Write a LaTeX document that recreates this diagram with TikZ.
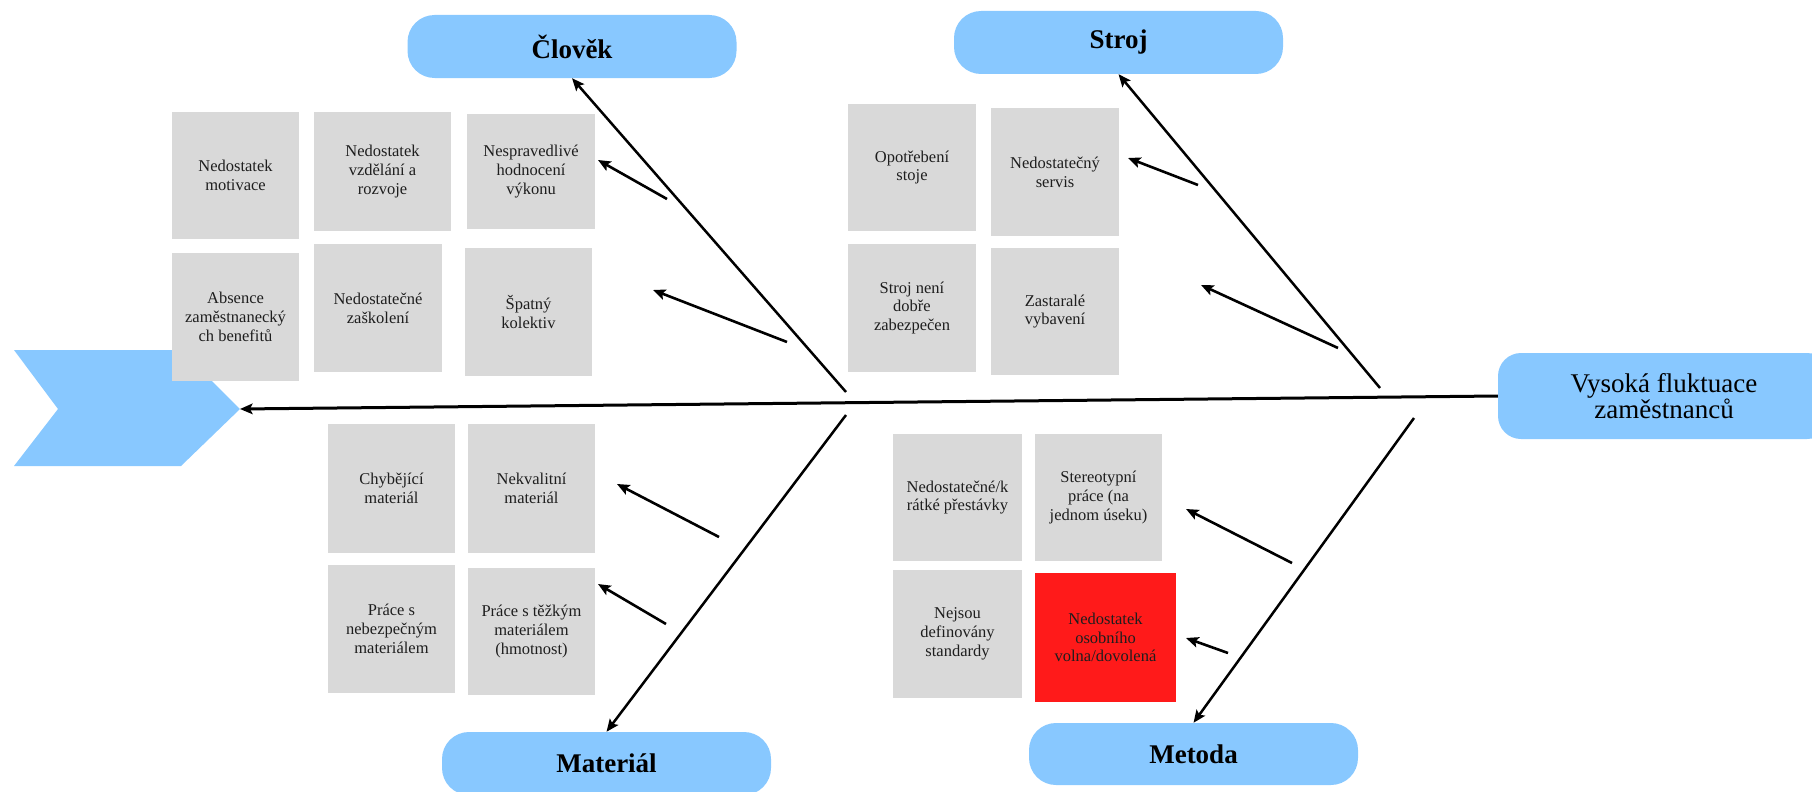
\documentclass[tikz,border=0pt]{standalone}
\usepackage{fontspec}
\setmainfont{Liberation Serif}
\usetikzlibrary{arrows.meta}
\definecolor{catblue}{HTML}{88C8FF}
\definecolor{causegray}{HTML}{D9D9D9}
\definecolor{alertred}{HTML}{FF1A1A}
\definecolor{inktext}{HTML}{1E1E1E}

\begin{document}
\begin{tikzpicture}[x=1pt,y=-1pt,
  category/.style={fill=catblue, rounded corners=27pt, inner sep=0pt,
    minimum width=329pt, minimum height=63pt,
    font=\fontsize{27}{30}\selectfont\bfseries},
  effectbox/.style={fill=catblue, rounded corners=23pt, inner sep=0pt, align=center,
    minimum width=332pt, minimum height=86pt,
    font=\fontsize{27}{26}\selectfont},
  cause/.style={fill=causegray, inner sep=0pt, align=center, text=inktext,
    minimum width=127pt, minimum height=127pt,
    font=\fontsize{16.5}{18.8}\selectfont},
  tipstyle/.style={-{Stealth[length=12.5pt,width=10.5pt,inset=2.5pt]}},
  bone/.style={line width=2.5pt, tipstyle},
  twig/.style={line width=2.6pt, tipstyle},
  spine/.style={line width=3pt, tipstyle}
]
\clip (0,0) rectangle (1812,792);

% head of the fish
\fill[catblue] (14,350) -- (181,350) -- (240,409) -- (181,466) -- (14,466) -- (58,409) -- cycle;
\coordinate (tail) at (240,409);

% categories and effect
\node[category] (clovek)   at (572,46.5)   {Člověk};
\node[category] (stroj)    at (1118.5,42.5) {Stroj};
\node[category] (material) at (606.5,763.5) {Materiál};
\node[category, minimum height=62pt] (metoda) at (1193.5,754) {Metoda};
\node[effectbox] (effect)  at (1664,396)   {Vysoká fluktuace\\zaměstnanců};

% causes: Člověk
\node[cause] (A1) at (235.5,175.5) {Nedostatek\\motivace};
\node[cause, minimum width=137pt, minimum height=119pt] (A2) at (382.5,171.5) {Nedostatek\\vzdělání a\\rozvoje};
\node[cause, minimum width=128pt, minimum height=115pt] (A3) at (531,171.5) {Nespravedlivé\\hodnocení\\výkonu};
\node[cause, minimum height=128pt] (A4) at (235.5,317) {Absence\\zaměstnanecký\\ch benefitů};
\node[cause, minimum width=128pt, minimum height=128pt] (A5) at (378,308) {Nedostatečné\\zaškolení};
\node[cause, minimum height=128pt] (A6) at (528.5,312) {Špatný\\kolektiv};

% causes: Stroj
\node[cause, minimum width=128pt] (B1) at (912,167.5) {Opotřebení\\stoje};
\node[cause, minimum width=128pt, minimum height=128pt] (B2) at (1055,172) {Nedostatečný\\servis};
\node[cause, minimum width=128pt, minimum height=128pt] (B3) at (912,308) {Stroj není\\dobře\\zabezpečen};
\node[cause, minimum width=128pt] (B4) at (1055,311.5) {Zastaralé\\vybavení};

% causes: Materiál
\node[cause, minimum height=129pt] (C1) at (391.5,488.5) {Chybějící\\materiál};
\node[cause, minimum height=129pt] (C2) at (531.5,488.5) {Nekvalitní\\materiál};
\node[cause, minimum height=128pt] (C3) at (391.5,629) {Práce s\\nebezpečným\\materiálem};
\node[cause] (C4) at (531.5,631.5) {Práce s těžkým\\materiálem\\(hmotnost)};

% causes: Metoda
\node[cause, minimum width=129pt] (D1) at (957.5,497.5) {Nedostatečné/k\\rátké přestávky};
\node[cause] (D2) at (1098.5,497.5) {Stereotypní\\práce (na\\jednom úseku)};
\node[cause, minimum width=129pt, minimum height=128pt] (D3) at (957.5,634) {Nejsou\\definovány\\standardy};
\node[cause, fill=alertred, minimum width=141pt, minimum height=129pt] (D4) at (1105.5,637.5) {Nedostatek\\osobního\\volna/dovolená};

% spine
\draw[spine] (effect.west) -- (tail);

% main bones
\coordinate (bC) at (846,392);
\coordinate (bS) at (1380,388);
\coordinate (bM) at (846,415);
\coordinate (bT) at (1414,418);
\draw[bone] (bC) -- (clovek.south);
\draw[bone] (bS) -- (stroj.south);
\draw[bone] (bM) -- (material.north);
\draw[bone] (bT) -- (metoda.north);

% small bones
\coordinate (c1a) at (667,199);  \coordinate (c1b) at (598,160);
\coordinate (c2a) at (787,342);  \coordinate (c2b) at (653,290);
\coordinate (s1a) at (1198,185); \coordinate (s1b) at (1128,158);
\coordinate (s2a) at (1338,348); \coordinate (s2b) at (1201,285);
\coordinate (m1a) at (719,537);  \coordinate (m1b) at (617,484);
\coordinate (m2a) at (666,624);  \coordinate (m2b) at (598,584);
\coordinate (t1a) at (1292,563); \coordinate (t1b) at (1186,509);
\coordinate (t2a) at (1228,653); \coordinate (t2b) at (1186,638);
\draw[twig] (c1a) -- (c1b);
\draw[twig] (c2a) -- (c2b);
\draw[twig] (s1a) -- (s1b);
\draw[twig] (s2a) -- (s2b);
\draw[twig] (m1a) -- (m1b);
\draw[twig] (m2a) -- (m2b);
\draw[twig] (t1a) -- (t1b);
\draw[twig] (t2a) -- (t2b);
\end{tikzpicture}
\end{document}
